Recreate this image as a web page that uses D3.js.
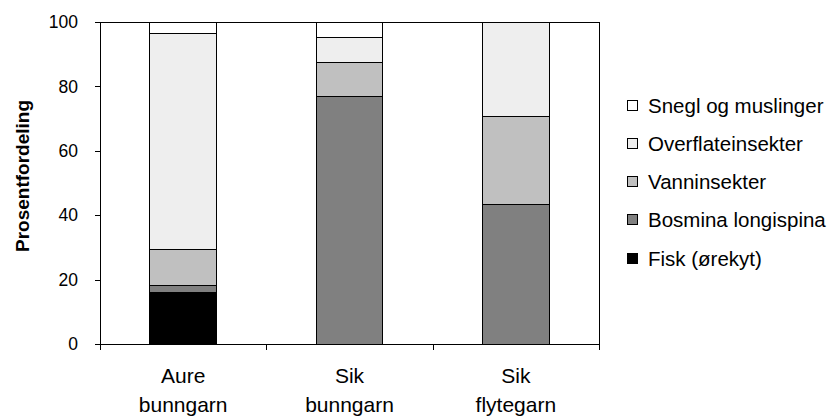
<!DOCTYPE html>
<html>
<head>
<meta charset="utf-8">
<script src="https://cdn.jsdelivr.net/npm/d3@7"></script>
<style>
  html, body { margin: 0; padding: 0; background: #fff; }
  svg { display: block; font-family: Arial, "Liberation Sans", sans-serif; }
</style>
</head>
<body>
<svg id="chart" width="832" height="416"></svg>
<script>
// Diet composition (percent) by fish species and net type
const categories = ["Aure bunngarn", "Sik bunngarn", "Sik flytegarn"];
const categoryLines = [["Aure", "bunngarn"], ["Sik", "bunngarn"], ["Sik", "flytegarn"]];

const seriesNames = ["Fisk (ørekyt)", "Bosmina longispina", "Vanninsekter", "Overflateinsekter", "Snegl og muslinger"];
const fisk = [15.9, 0, 0];
const bosmina = [2.4, 76.9, 43.3];
const vanninsekter = [11.0, 10.5, 27.3];
const overflateinsekter = [67.1, 7.9, 29.4];
const snegl = [3.6, 4.7, 0];
const seriesColors = ["#000000", "#808080", "#c0c0c0", "#eeeeee", "#ffffff"];

const yTicks = [0, 20, 40, 60, 80, 100];
const yTitle = "Prosentfordeling";

const seriesValues = [fisk, bosmina, vanninsekter, overflateinsekter, snegl];
const rows = categories.map((c, i) => {
  const r = { category: c };
  seriesNames.forEach((s, k) => { r[s] = seriesValues[k][i]; });
  return r;
});

const svg = d3.select("#chart");
const plot = { left: 100, right: 599, top: 22, bottom: 344 };

const x = d3.scaleBand()
  .domain(categories)
  .range([plot.left, plot.right])
  .paddingInner(0.6)
  .paddingOuter(0.3);

const y = d3.scaleLinear().domain([0, 100]).range([plot.bottom, plot.top]);

const color = d3.scaleOrdinal().domain(seriesNames).range(seriesColors);

const stacked = d3.stack().keys(seriesNames)(rows);

// plot frame
svg.append("rect")
  .attr("x", plot.left).attr("y", plot.top)
  .attr("width", plot.right - plot.left).attr("height", plot.bottom - plot.top)
  .attr("fill", "none").attr("stroke", "#000").attr("stroke-width", 1)
  .attr("shape-rendering", "crispEdges");

// stacked bars
svg.append("g")
  .selectAll("g")
  .data(stacked)
  .join("g")
  .attr("fill", d => color(d.key))
  .selectAll("rect")
  .data(d => d.map(v => ({ v, cat: v.data.category })))
  .join("rect")
  .attr("x", d => x(d.cat))
  .attr("width", x.bandwidth())
  .attr("y", d => y(d.v[1]))
  .attr("height", d => y(d.v[0]) - y(d.v[1]))
  .attr("stroke", "#000")
  .attr("stroke-width", 1)
  .attr("shape-rendering", "crispEdges");

// y axis
const yAxis = svg.append("g")
  .attr("transform", `translate(${plot.left},0)`)
  .call(d3.axisLeft(y).tickValues(yTicks).tickSize(5).tickPadding(17));
yAxis.select(".domain").attr("shape-rendering", "crispEdges");
yAxis.selectAll(".tick line").attr("shape-rendering", "crispEdges");
yAxis.selectAll("text").attr("font-size", 17.5).attr("fill", "#000")
  .attr("font-family", "Arial, 'Liberation Sans', sans-serif");

// x axis with ticks on category boundaries
const xEdge = d3.scaleLinear().domain([0, categories.length]).range([plot.left, plot.right]);
const xAxisG = svg.append("g")
  .attr("transform", `translate(0,${plot.bottom})`)
  .call(d3.axisBottom(xEdge).tickValues(d3.range(categories.length + 1)).tickSize(6).tickFormat(""));
xAxisG.selectAll(".tick line").attr("shape-rendering", "crispEdges");
xAxisG.select(".domain").attr("shape-rendering", "crispEdges");

// category labels (two lines)
const catG = svg.append("g");
categories.forEach((c, i) => {
  const cx = x(c) + x.bandwidth() / 2;
  categoryLines[i].forEach((line, j) => {
    catG.append("text")
      .attr("x", cx)
      .attr("y", 383 + j * 29)
      .attr("text-anchor", "middle")
      .attr("font-size", 21)
      .attr("fill", "#000")
      .text(line);
  });
});

// y axis title
svg.append("text")
  .attr("transform", `translate(29,176) rotate(-90)`)
  .attr("text-anchor", "middle")
  .attr("font-size", 19)
  .attr("font-weight", "bold")
  .attr("fill", "#000")
  .text(yTitle);

// legend, top entry is the top stack segment
const legendOrder = seriesNames.slice().reverse();
const legend = svg.append("g");
legendOrder.forEach((name, i) => {
  const cy = 105 + i * 38.3;
  legend.append("rect")
    .attr("x", 627).attr("y", cy - 5)
    .attr("width", 10).attr("height", 10)
    .attr("fill", color(name))
    .attr("stroke", "#000").attr("stroke-width", 1)
    .attr("shape-rendering", "crispEdges");
  legend.append("text")
    .attr("x", 648).attr("y", cy)
    .attr("dominant-baseline", "central")
    .attr("font-size", 20.5)
    .attr("fill", "#000")
    .text(name);
});
</script>
</body>
</html>
